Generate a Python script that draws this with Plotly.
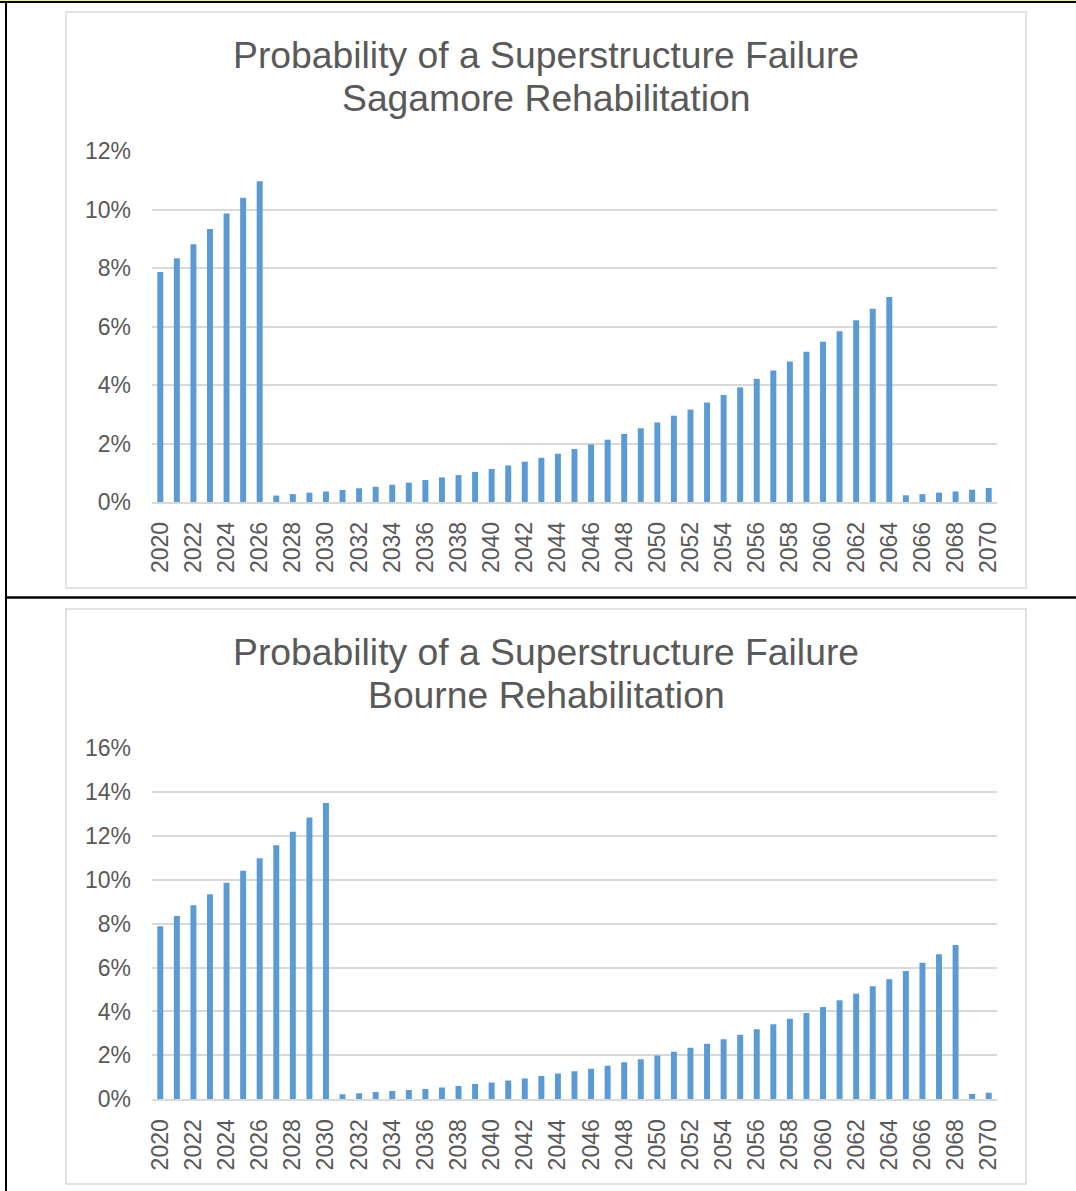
import plotly.graph_objects as go

# Survey years shared by both bridges
years = list(range(2020, 2071))

# Annual probability of a superstructure failure (%), Sagamore rehabilitation
sagamore_pct = [
    7.86, 8.33, 8.81, 9.33, 9.86, 10.40, 10.97,
    0.22, 0.27, 0.32, 0.36, 0.41, 0.47, 0.52, 0.59, 0.66, 0.75, 0.84, 0.92,
    1.03, 1.13, 1.25, 1.38, 1.51, 1.65, 1.81, 1.97, 2.13, 2.33, 2.52, 2.72,
    2.95, 3.16, 3.40, 3.66, 3.92, 4.21, 4.50, 4.80, 5.14, 5.48, 5.84, 6.21,
    6.61, 7.01,
    0.23, 0.27, 0.32, 0.36, 0.42, 0.48,
]

# Annual probability of a superstructure failure (%), Bourne rehabilitation
bourne_pct = [
    7.88, 8.35, 8.84, 9.34, 9.86, 10.41, 10.98, 11.57, 12.19, 12.83, 13.49,
    0.23, 0.28, 0.33, 0.38, 0.42, 0.47, 0.54, 0.61, 0.70, 0.76, 0.86, 0.95,
    1.06, 1.17, 1.28, 1.39, 1.53, 1.69, 1.82, 1.99, 2.16, 2.35, 2.53, 2.73,
    2.94, 3.19, 3.42, 3.67, 3.93, 4.20, 4.51, 4.81, 5.15, 5.47, 5.84, 6.22,
    6.61, 7.03,
    0.24, 0.30,
]

title_line1 = "Probability of a Superstructure Failure"
sagamore_title = "Sagamore Rehabilitation"
bourne_title = "Bourne Rehabilitation"

W, H = 1076, 1191
FONT = "Liberation Sans, Arial, sans-serif"
TEXT = "#595959"
GRID = "#d9d9d9"
BAR = "#5b9bd5"


def px_x(x):
    return x / W


def px_y(y):
    return 1 - y / H


fig = go.Figure()

fig.add_trace(go.Bar(x=years, y=[v / 100 for v in sagamore_pct],
                     marker=dict(color=BAR, line=dict(width=0)),
                     xaxis="x", yaxis="y", showlegend=False))
fig.add_trace(go.Bar(x=years, y=[v / 100 for v in bourne_pct],
                     marker=dict(color=BAR, line=dict(width=0)),
                     xaxis="x2", yaxis="y2", showlegend=False))

tick_font = dict(family=FONT, size=23, color=TEXT)

xaxis_common = dict(
    range=[2019.5, 2070.5], tickmode="linear", tick0=2020, dtick=2,
    tickangle=-90, tickfont=tick_font, showgrid=False, zeroline=False,
    showline=True, linecolor=GRID, linewidth=1.5, ticks="",
    ticklabelstandoff=9, automargin=False,
)
yaxis_common = dict(
    tickformat=".0%", tickfont=tick_font, showgrid=True, gridcolor=GRID,
    gridwidth=1.5, zeroline=False, showline=False, ticks="",
    ticklabelstandoff=20, automargin=False,
)

# plot areas (pixel boxes)
p1 = dict(x0=152, x1=997, y0=151, y1=502)
p2 = dict(x0=152, x1=997, y0=748, y1=1099.3)

fig.update_layout(
    width=W, height=H,
    margin=dict(l=0, r=0, t=0, b=0, pad=0, autoexpand=False),
    paper_bgcolor="white", plot_bgcolor="white",
    bargap=0.64,
    xaxis=dict(domain=[px_x(p1["x0"]), px_x(p1["x1"])], anchor="y", **xaxis_common),
    yaxis=dict(domain=[px_y(p1["y1"]), px_y(p1["y0"])], anchor="x",
               range=[0, 0.12], dtick=0.02, **yaxis_common),
    xaxis2=dict(domain=[px_x(p2["x0"]), px_x(p2["x1"])], anchor="y2", **xaxis_common),
    yaxis2=dict(domain=[px_y(p2["y1"]), px_y(p2["y0"])], anchor="x2",
                range=[0, 0.16], dtick=0.02, **yaxis_common),
)

shapes = []
# chart frames
for top, bottom in [(12, 588), (609, 1184)]:
    shapes.append(dict(type="rect", xref="paper", yref="paper",
                       x0=px_x(66), x1=px_x(1026), y0=px_y(bottom), y1=px_y(top),
                       line=dict(color=GRID, width=1.5), fillcolor="rgba(0,0,0,0)"))
# table cell borders
shapes.append(dict(type="line", xref="paper", yref="paper",
                   x0=0, x1=1, y0=px_y(0.5), y1=px_y(0.5),
                   line=dict(color="#f2f29a", width=1)))
shapes.append(dict(type="line", xref="paper", yref="paper",
                   x0=0, x1=1, y0=px_y(2), y1=px_y(2),
                   line=dict(color="black", width=2)))
shapes.append(dict(type="line", xref="paper", yref="paper",
                   x0=px_x(5), x1=1, y0=px_y(597.5), y1=px_y(597.5),
                   line=dict(color="black", width=2.5)))
shapes.append(dict(type="line", xref="paper", yref="paper",
                   x0=px_x(6), x1=px_x(6), y0=0, y1=px_y(1),
                   line=dict(color="black", width=2)))

title_font = dict(family=FONT, size=37.3, color=TEXT)
annotations = []
for line1_y, line2_y, sub in [(55, 98, sagamore_title), (652, 695, bourne_title)]:
    annotations.append(dict(text=title_line1, xref="paper", yref="paper",
                            x=px_x(546), y=px_y(line1_y), xanchor="center",
                            yanchor="middle", showarrow=False, font=title_font))
    annotations.append(dict(text=sub, xref="paper", yref="paper",
                            x=px_x(546), y=px_y(line2_y), xanchor="center",
                            yanchor="middle", showarrow=False, font=title_font))

fig.update_layout(shapes=shapes, annotations=annotations)

fig.write_html("out.html")
